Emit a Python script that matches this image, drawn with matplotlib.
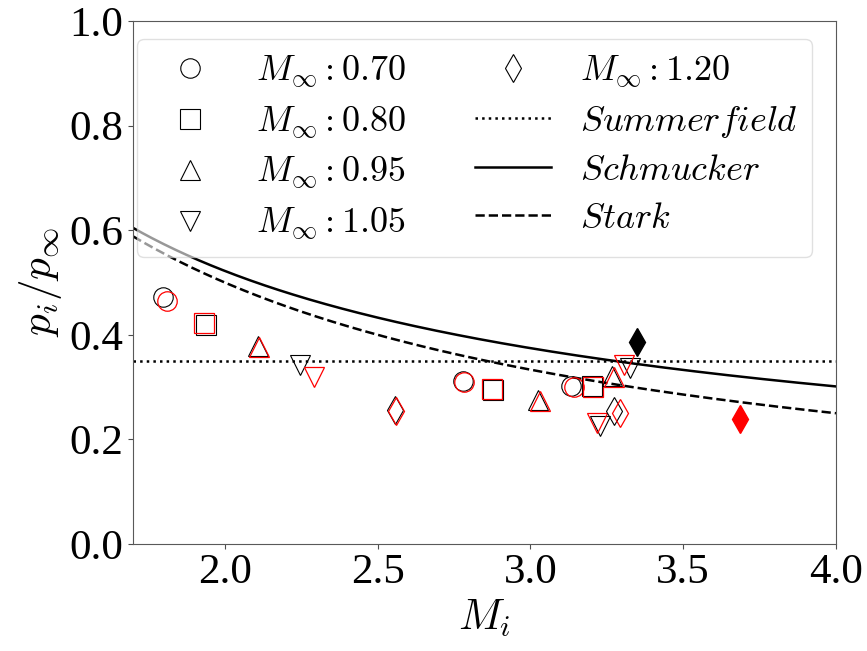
import numpy as np
import matplotlib.pyplot as plt
from matplotlib.lines import Line2D

plt.rcParams['font.family'] = ['Liberation Serif', 'DejaVu Serif']
plt.rcParams['mathtext.fontset'] = 'cm'

# Machova cisla volneho proudu a jejich znacky
mach_labels = ['0.70', '0.80', '0.95', '1.05', '1.20']
mach_markers = ['o', 's', '^', 'v', 'd']

# cerna data (Mi, pi/pinf)
black_M = [[1.798, 2.780, 3.133],
           [1.938, 2.877, 3.202],
           [2.109, 3.024, 3.267],
           [2.246, 3.228, 3.326],
           [2.557, 3.273]]
black_p = [[0.472, 0.311, 0.302],
           [0.419, 0.294, 0.302],
           [0.378, 0.275, 0.321],
           [0.342, 0.226, 0.336],
           [0.256, 0.254]]

# cervena data
red_M = [[1.811, 2.783, 3.143],
         [1.932, 2.874, 3.205],
         [2.112, 3.031, 3.273],
         [2.292, 3.218, 3.306],
         [2.560, 3.293]]
red_p = [[0.465, 0.309, 0.300],
         [0.423, 0.296, 0.300],
         [0.376, 0.273, 0.319],
         [0.319, 0.231, 0.342],
         [0.254, 0.250]]

# plne kosocterce
black_fill_M, black_fill_p = [3.349], [0.387]
red_fill_M, red_fill_p = [3.686], [0.239]

# kriteria
M = np.linspace(1.7, 4.0, 300)
summerfield = np.full_like(M, 0.35)
schmucker = (1.88 * M - 1) ** (-0.64)
stark = 1 / M

fig = plt.figure(figsize=(8.67, 6.51), dpi=100)
ax = fig.add_axes([0.1534, 0.1644, 0.8108, 0.8034])

ax.plot(M, summerfield, ':', color='k', lw=1.8)
ax.plot(M, schmucker, '-', color='k', lw=1.8)
ax.plot(M, stark, '--', color='k', lw=1.8)

for i in range(len(mach_labels)):
    ax.plot(black_M[i], black_p[i], linestyle='none', marker=mach_markers[i], ms=14,
            mfc='none', mec='k', mew=0.8)
    ax.plot(red_M[i], red_p[i], linestyle='none', marker=mach_markers[i], ms=14,
            mfc='none', mec='red', mew=0.9)

ax.plot(black_fill_M, black_fill_p, linestyle='none', marker='d', ms=14, color='k')
ax.plot(red_fill_M, red_fill_p, linestyle='none', marker='d', ms=14, color='red')

ax.set_xlim(1.7, 4.0)
ax.set_ylim(0.0, 1.0)
ax.set_xticks([2.0, 2.5, 3.0, 3.5, 4.0])
ax.set_yticks([0.0, 0.2, 0.4, 0.6, 0.8, 1.0])
ax.tick_params(labelsize=31, color='0.3')
for s in ax.spines.values():
    s.set_color('0.35')
ax.set_xlabel(r'$M_i$', fontsize=31)
ax.set_ylabel(r'$p_i/p_\infty$', fontsize=31)

handles = [Line2D([], [], linestyle='none', marker=m, ms=14, mfc='none', mec='k', mew=0.8)
           for m in mach_markers[:4]]
labels = [r'$M_\infty: %s$' % l for l in mach_labels[:4]]
handles += [Line2D([], [], linestyle='none', marker='d', ms=14, mfc='none', mec='k', mew=0.8),
            Line2D([], [], linestyle=':', color='k', lw=1.8),
            Line2D([], [], linestyle='-', color='k', lw=1.8),
            Line2D([], [], linestyle='--', color='k', lw=1.8)]
labels += [r'$M_\infty: 1.20$', r'$Summerfield$', r'$Schmucker$', r'$Stark$']
ax.legend(handles, labels, ncol=2, loc='upper left', bbox_to_anchor=(0.006, 0.966),
          borderaxespad=0, fontsize=26, framealpha=0.6,
          handlelength=2.1, handletextpad=0.8, columnspacing=1.9, labelspacing=0.4)

fig.savefig('out.png', dpi=100)
